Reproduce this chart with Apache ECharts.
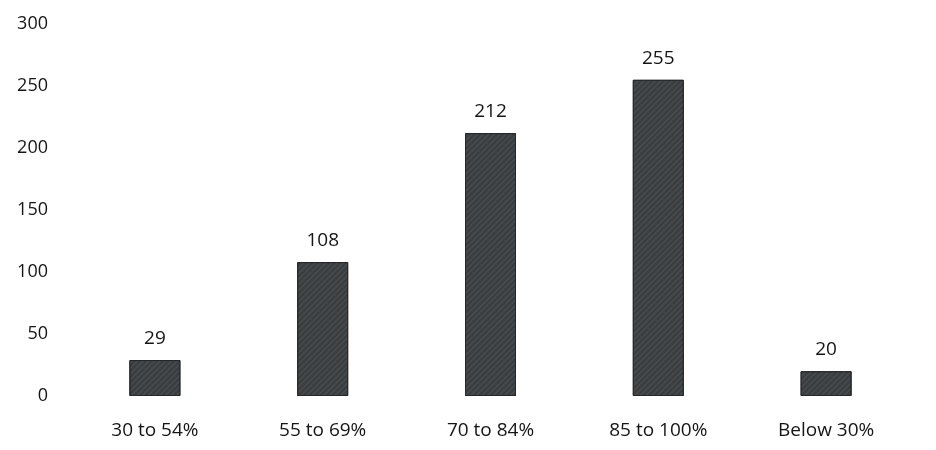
<!DOCTYPE html>
<html>
<head>
<meta charset="utf-8">
<script src="https://cdn.jsdelivr.net/npm/echarts@6/dist/echarts.min.js"></script>
<style>html,body{margin:0;padding:0;background:#fff;}#c{width:936px;height:450px;}</style>
</head>
<body>
<div id="c"></div>
<script>
const categories = ['30 to 54%', '55 to 69%', '70 to 84%', '85 to 100%', 'Below 30%'];
const values = [29, 108, 212, 255, 20];
const yTicks = { min: 0, max: 300, interval: 50 };

const chart = echarts.init(document.getElementById('c'));
chart.setOption({
  backgroundColor: '#ffffff',
  animation: false,
  textStyle: { fontFamily: 'Open Sans' },
  grid: { left: 71, right: 26, top: 24, bottom: 54, containLabel: false },
  xAxis: {
    type: 'category',
    data: categories,
    axisLine: { show: false },
    axisTick: { show: false },
    axisLabel: { color: '#151515', fontSize: 19, margin: 25, fontFamily: 'Open Sans' }
  },
  yAxis: {
    type: 'value',
    min: yTicks.min, max: yTicks.max, interval: yTicks.interval,
    axisLine: { show: false },
    axisTick: { show: false },
    splitLine: { show: false },
    axisLabel: { color: '#151515', fontSize: 18, margin: 23, fontFamily: 'Open Sans' }
  },
  series: [{
    type: 'bar',
    data: values,
    barWidth: 51,
    itemStyle: {
      color: '#3b3e40',
      borderColor: '#262728',
      borderWidth: 1,
      decal: { symbol: 'rect', dashArrayX: [1, 0], dashArrayY: [1, 3], rotation: -Math.PI / 4, color: 'rgba(110,115,118,0.35)' }
    },
    label: { show: true, position: 'top', distance: 12, color: '#151515', fontSize: 19, fontFamily: 'Open Sans' }
  }]
});
</script>
</body>
</html>
